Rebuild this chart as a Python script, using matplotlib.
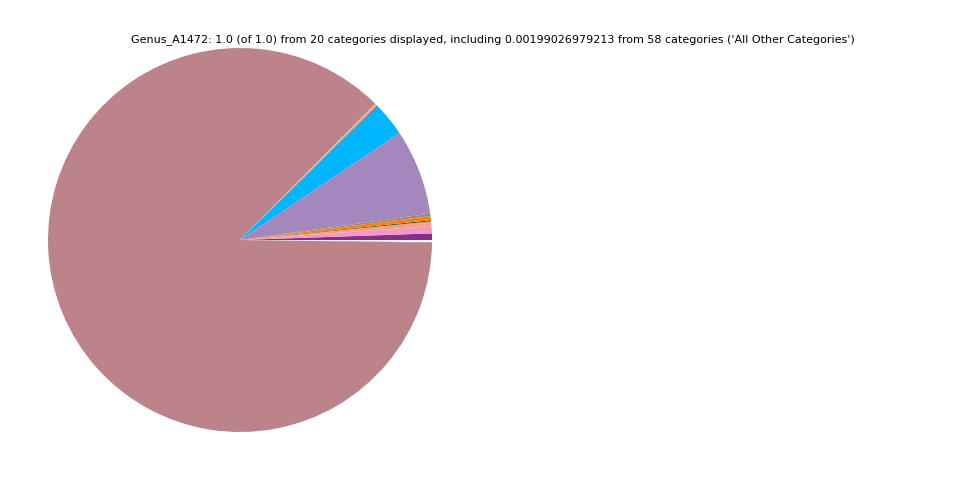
import matplotlib
matplotlib.use("Agg")
import matplotlib.pyplot as plt

# genus fractions, counterclockwise from just below 3 o'clock
categories = ["Genus_01", "Genus_02", "Genus_03", "Genus_04", "Genus_05",
              "Genus_06", "Genus_07", "All Other Categories", "Genus_08", "Genus_09",
              "Genus_10", "Genus_11", "Genus_12", "Genus_13", "Genus_14",
              "Genus_15", "Genus_16", "Genus_17", "Genus_18", "Genus_19"]
values = [0.0006, 0.0016, 0.0055, 0.0062, 0.0038,
          0.0010, 0.0035, 0.0020, 0.0720, 0.0290,
          0.0008, 0.0012, 0.0002, 0.0002, 0.0001,
          0.0001, 0.0001, 0.0001, 0.0001, 0.8720]
colors = ["#8c8c8c", "#ffffff", "#8b2c8c", "#f29ac6", "#f7a080",
          "#2d5a1b", "#ff7f0e", "#8c8c8c", "#a487bd", "#00b6ff",
          "#d62728", "#ffc07f", "#7f7f7f", "#bcbd22", "#17becf",
          "#9467bd", "#e377c2", "#1f77b4", "#2ca02c", "#bc838b"]

title = ("Genus_A1472: 1.0 (of 1.0) from 20 categories displayed, including "
         "0.00199026979213 from 58 categories ('All Other Categories')")

fig = plt.figure(figsize=(9.6, 4.8), dpi=100)
ax = fig.add_axes([48 / 960, 48 / 480, 384 / 960, 384 / 480])
ax.pie(values, colors=colors, startangle=-0.8, counterclock=True,
       wedgeprops={"linewidth": 0})
ax.set_xlim(-1, 1)
ax.set_ylim(-1, 1)
ax.set_aspect("equal")
ax.axis("off")

fig.text(0.513, 0.917, title, ha="center", va="center", fontsize=8)

fig.savefig("out.png", dpi=100)
